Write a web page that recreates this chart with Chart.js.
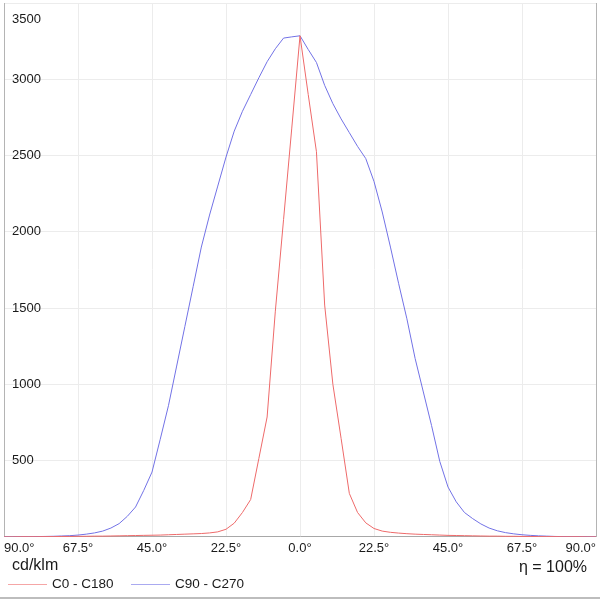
<!DOCTYPE html>
<html>
<head>
<meta charset="utf-8">
<script src="https://cdn.jsdelivr.net/npm/chart.js@4"></script>
<style>
  html, body { margin: 0; padding: 0; background: #fff; }
</style>
</head>
<body>
<canvas id="lightChart" width="600" height="600"></canvas>
<script>
// gamma angles, degrees
const angles = [-90, -87.5, -85, -82.5, -80, -77.5, -75, -72.5, -70, -67.5, -65, -62.5,
  -60, -57.5, -55, -52.5, -50, -47.5, -45, -42.5, -40, -37.5, -35, -32.5,
  -30, -27.5, -25, -22.5, -20, -17.5, -15, -12.5, -10, -7.5, -5, -2.5,
  0, 2.5, 5, 7.5, 10, 12.5, 15, 17.5, 20, 22.5, 25, 27.5,
  30, 32.5, 35, 37.5, 40, 42.5, 45, 47.5, 50, 52.5, 55, 57.5,
  60, 62.5, 65, 67.5, 70, 72.5, 75, 77.5, 80, 82.5, 85, 87.5, 90];

// C0 - C180 plane, cd/klm
const c0c180 = [0, 0, 1, 1, 1, 2, 2, 3, 3, 4, 4, 5,
  5, 6, 7, 8, 9, 10, 11, 12, 14, 16, 18, 20,
  22, 26, 33, 50, 90, 160, 245, 515, 786, 1480, 2080, 2680,
  3285, 2900, 2525, 1520, 1000, 645, 285, 160, 92, 55, 38, 30,
  25, 21, 18, 16, 14, 12, 10, 9, 8, 7, 6, 5,
  5, 4, 4, 3, 3, 2, 2, 2, 1, 1, 1, 0, 0];

// C90 - C270 plane, cd/klm
const c90c270 = [0, 0, 1, 1, 2, 3, 4, 6, 8, 12, 18, 26,
  38, 58, 87, 135, 196, 305, 425, 640, 860, 1120, 1380, 1640,
  1900, 2110, 2300, 2490, 2660, 2790, 2900, 3010, 3115, 3200, 3270, 3278,
  3285, 3195, 3110, 2960, 2840, 2740, 2650, 2560, 2480, 2330, 2130, 1900,
  1660, 1430, 1170, 950, 730, 495, 327, 230, 160, 120, 85, 58,
  40, 28, 20, 14, 10, 7, 5, 3, 2, 1, 1, 0, 0];

const seriesNames = ['C0 - C180', 'C90 - C270'];
const seriesColors = ['#ee6a6a', '#7272e6'];
const yMax = 3500;
const yStep = 500;
const xStep = 22.5;
const unitText = 'cd/klm';
const etaText = '\u03b7 = 100%';

const FONT = '"Liberation Sans", Arial, sans-serif';

function toPoints(vals) {
  return angles.map(function(a, i) { return { x: a, y: vals[i] }; });
}

// labels inside the plot, legend and captions
const extras = {
  id: 'extras',
  afterDraw(chart) {
    const ctx = chart.ctx;
    const area = chart.chartArea;
    const y = chart.scales.y;
    ctx.save();

    // right frame line
    ctx.strokeStyle = '#b4b4b4';
    ctx.lineWidth = 1;
    ctx.beginPath();
    ctx.moveTo(area.right + 0.5, area.top);
    ctx.lineTo(area.right + 0.5, area.bottom);
    ctx.stroke();

    // y tick labels
    ctx.font = '13px ' + FONT;
    ctx.fillStyle = '#1a1a1a';
    ctx.textAlign = 'left';
    ctx.textBaseline = 'middle';
    y.ticks.forEach(function(t) {
      if (t.value === 0) return;
      const py = Math.max(y.getPixelForValue(t.value), area.top + 16);
      ctx.fillText(String(t.value), area.left + 8, py);
    });

    // unit and efficiency
    ctx.font = '16px ' + FONT;
    ctx.fillText(unitText, 12, 566);
    ctx.textAlign = 'right';
    ctx.fillText(etaText, 587, 568);

    // legend
    ctx.font = '13.5px ' + FONT;
    ctx.textAlign = 'left';
    const starts = [8, 131];
    chart.data.datasets.forEach(function(ds, i) {
      const x0 = starts[i];
      ctx.strokeStyle = ds.borderColor;
      ctx.globalAlpha = 0.6;
      ctx.beginPath();
      ctx.moveTo(x0, 584.5);
      ctx.lineTo(x0 + 39, 584.5);
      ctx.stroke();
      ctx.globalAlpha = 1;
      ctx.fillText(ds.label, x0 + 44, 584);
    });

    // bottom frame line
    ctx.strokeStyle = '#bdbdbd';
    ctx.lineWidth = 2;
    ctx.beginPath();
    ctx.moveTo(0, 598);
    ctx.lineTo(600, 598);
    ctx.stroke();

    ctx.restore();
  }
};

const ctx = document.getElementById('lightChart').getContext('2d');
const chart = new Chart(ctx, {
  type: 'line',
  data: {
    datasets: [{
      label: seriesNames[0],
      data: toPoints(c0c180),
      borderColor: seriesColors[0],
      borderWidth: 1,
      pointRadius: 0,
      tension: 0
    }, {
      label: seriesNames[1],
      data: toPoints(c90c270),
      borderColor: seriesColors[1],
      borderWidth: 1,
      pointRadius: 0,
      tension: 0
    }]
  },
  options: {
    responsive: false,
    animation: false,
    layout: {
      padding: { left: 3, right: 4, top: 3, bottom: 39.5 }
    },
    plugins: {
      legend: { display: false },
      tooltip: { enabled: false }
    },
    scales: {
      x: {
        type: 'linear',
        min: -90,
        max: 90,
        grid: { color: '#ececec', drawTicks: false },
        border: { color: '#a8a8a8' },
        ticks: {
          stepSize: xStep,
          align: 'inner',
          padding: 4,
          maxRotation: 0,
          color: '#1a1a1a',
          font: { family: FONT, size: 13 },
          callback: function(v) { return Math.abs(v).toFixed(1) + '\u00b0'; }
        }
      },
      y: {
        min: 0,
        max: yMax,
        grid: { color: '#ececec', drawTicks: false },
        border: { color: '#b4b4b4' },
        ticks: { display: false, stepSize: yStep }
      }
    }
  },
  plugins: [extras]
});
</script>
</body>
</html>
